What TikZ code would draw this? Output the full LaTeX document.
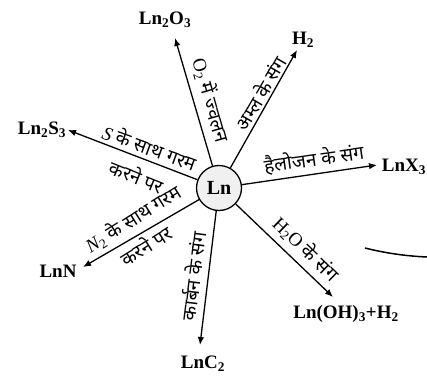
\documentclass[tikz,border=0pt]{standalone}
\usepackage{fontspec}
\setmainfont{Liberation Serif}
\newfontfamily\hin[Script=Devanagari]{Noto Sans}
\newcommand\lat[1]{{\rmfamily #1}}
\usetikzlibrary{arrows.meta}
\begin{document}
\begin{tikzpicture}[x=1pt,y=-1pt,
  arr/.style={line width=1.3pt,-{Latex[length=8pt,width=6.5pt]}},
  prod/.style={font=\fontsize{19}{21}\selectfont\bfseries,inner sep=1pt},
  hlab/.style={font=\hin\fontsize{19}{21}\selectfont,inner sep=0pt}]
\useasboundingbox (0,0) rectangle (427,382);
\node[circle,draw,line width=1.3pt,fill=gray!12,minimum size=45pt,inner sep=0pt,font=\fontsize{20}{22}\selectfont\bfseries] (ln) at (219,188) {Ln};
% products
\node[prod] (o) at (165,20) {Ln\textsubscript{2}O\textsubscript{3}};
\node[prod] (h) at (303,40) {H\textsubscript{2}};
\node[prod] (x) at (404,167) {LnX\textsubscript{3}};
\node[prod] (oh) at (346,314) {Ln(OH)\textsubscript{3}+H\textsubscript{2}};
\node[prod] (c) at (203,364) {LnC\textsubscript{2}};
\node[prod] (n) at (58,271) {LnN};
\node[prod] (s) at (42,130) {Ln\textsubscript{2}S\textsubscript{3}};
% tips
\coordinate (tO) at (175,38);
\coordinate (tH) at (297,50);
\coordinate (tX) at (377,165);
\coordinate (tOH) at (333,297);
\coordinate (tC) at (200,345);
\coordinate (tN) at (83,267);
\coordinate (tS) at (68,130);
\foreach \t in {tO,tH,tX,tOH,tC,tN,tS} \draw[arr] (ln) -- (\t);
% labels
\node[hlab,rotate=-74] (lo) at (211,100) {\lat{O\textsubscript{2}} में ज्वलन};
\node[hlab,rotate=60] (la) at (260,93) {अम्ल के संग};
\node[hlab,rotate=8] (lx) at (314,159) {हैलोजन के संग};
\node[hlab,rotate=-44] (lw) at (306,249) {\lat{H\textsubscript{2}O} के संग};
\node[hlab,rotate=83] (lc) at (193,276) {कार्बन के संग};
\node[hlab,rotate=-20] (ls1) at (150,147) {\lat{\itshape S} के साथ गरम};
\node[hlab,rotate=-22] (ls2) at (137,176) {करने पर};
\node[hlab,rotate=32] (ln1) at (133,219) {\lat{\itshape N\textsubscript{\upshape 2}} के साथ गरम};
\node[hlab,rotate=32] (ln2) at (146,245) {करने पर};
% fragment at right edge
\draw[line width=1.5pt] (365,248) .. controls (385,253) and (405,256) .. (427,257);
\end{tikzpicture}
\end{document}
